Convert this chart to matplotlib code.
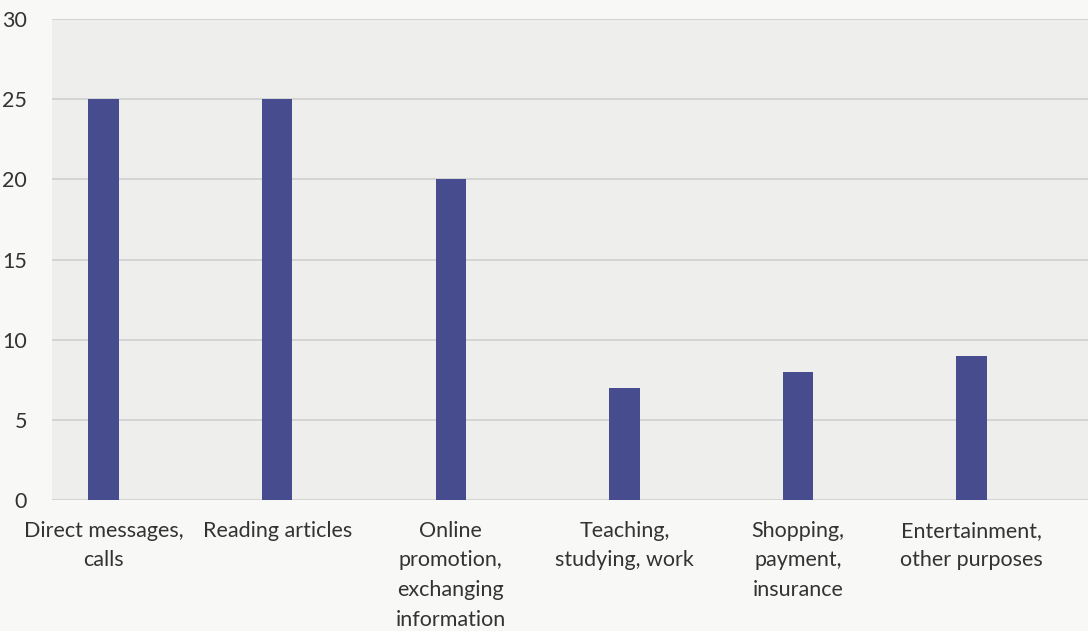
import matplotlib
matplotlib.use("Agg")
import matplotlib.pyplot as plt

# purposes of internet use, number of respondents
categories = [
    "Direct messages,\ncalls",
    "Reading articles",
    "Online\npromotion,\nexchanging\ninformation",
    "Teaching,\nstudying, work",
    "Shopping,\npayment,\ninsurance",
    "Entertainment,\nother purposes",
]
counts = [25, 25, 20, 7, 8, 9]
y_ticks = [0, 5, 10, 15, 20, 25, 30]

plt.rcParams["font.family"] = ["Lato", "DejaVu Sans"]

fig = plt.figure(figsize=(10.88, 6.31), dpi=100, facecolor="#f8f8f7")
ax = fig.add_axes([52 / 1088, 1 - 500 / 631, 1036 / 1088, 481 / 631])
ax.set_facecolor("#eeeeed")

x = list(range(len(categories)))
ax.bar(x, counts, width=0.175, color="#474c8e", zorder=3)

ax.set_xlim(-0.297, 5.67)
ax.set_ylim(0, 30)
ax.set_yticks(y_ticks)
ax.set_xticks(x)
ax.set_xticklabels(categories, fontsize=15.5, color="#333333", linespacing=1.6)
ax.tick_params(axis="y", labelsize=15.5, colors="#333333", length=0, pad=18)
ax.tick_params(axis="x", length=0, pad=15)

ax.grid(axis="y", color="#d2d2d2", linewidth=1.3, zorder=0)
for s in ax.spines.values():
    s.set_visible(False)

fig.savefig("out.png", dpi=100, facecolor=fig.get_facecolor())
